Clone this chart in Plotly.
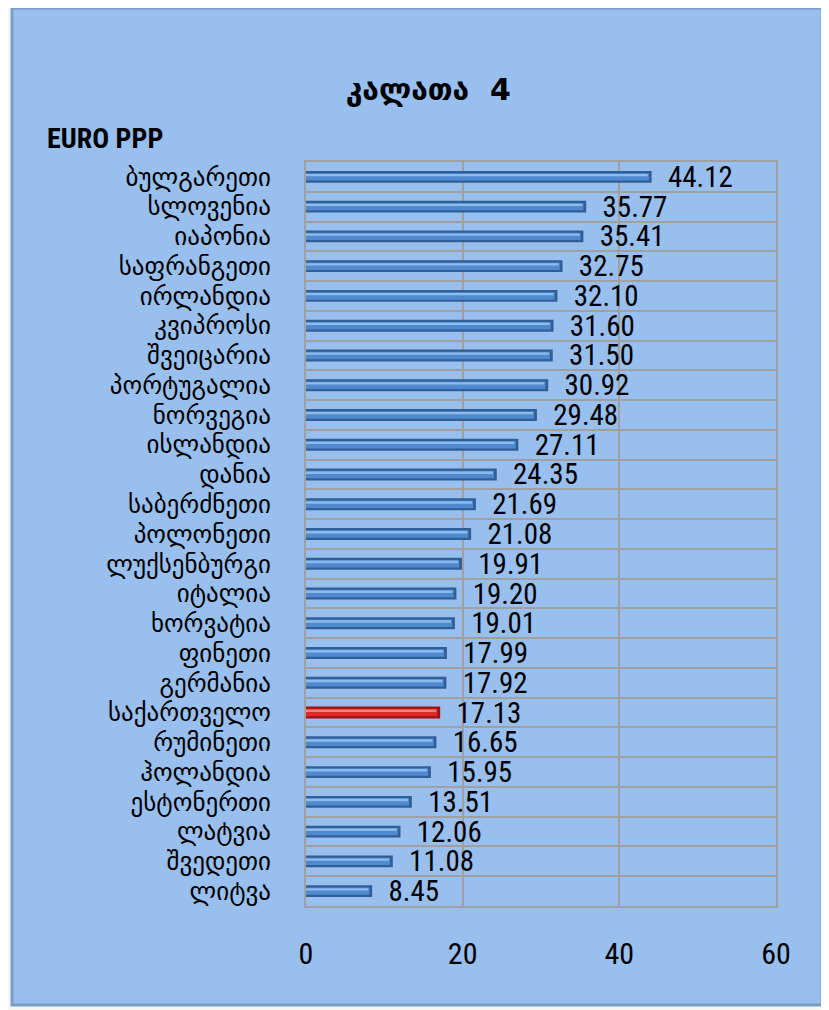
import plotly.graph_objects as go

countries = ["ბულგარეთი", "სლოვენია", "იაპონია", "საფრანგეთი", "ირლანდია", "კვიპროსი",
             "შვეიცარია", "პორტუგალია", "ნორვეგია", "ისლანდია", "დანია", "საბერძნეთი",
             "პოლონეთი", "ლუქსენბურგი", "იტალია", "ხორვატია", "ფინეთი", "გერმანია",
             "საქართველო", "რუმინეთი", "ჰოლანდია", "ესტონერთი", "ლატვია", "შვედეთი", "ლიტვა"]
values = [44.12, 35.77, 35.41, 32.75, 32.10, 31.60, 31.50, 30.92, 29.48, 27.11, 24.35, 21.69,
          21.08, 19.91, 19.20, 19.01, 17.99, 17.92, 17.13, 16.65, 15.95, 13.51, 12.06, 11.08, 8.45]
highlight = "საქართველო"
x_ticks = [0, 20, 40, 60]

cats = list(reversed(countries))
vals = list(reversed(values))
outer_colors = ["#A01010" if c == highlight else "#2F5F96" for c in cats]
inner_colors = ["#E02828" if c == highlight else "#4F8AD0" for c in cats]
hi_colors = ["#F08080" if c == highlight else "#8DBBEB" for c in cats]

NUM_FONT = "Liberation Sans Narrow, Roboto Condensed, Arial Narrow, sans-serif"

fig = go.Figure()
fig.add_trace(go.Bar(
    y=cats, x=vals, orientation="h", width=0.4,
    marker=dict(color=outer_colors, line=dict(width=0)),
    text=["  " + f"{v:.2f}" for v in vals], textposition="outside", constraintext="none",
    textfont=dict(family=NUM_FONT, size=29, color="#000000"),
    cliponaxis=False, showlegend=False, hoverinfo="skip"))
fig.add_trace(go.Bar(
    y=cats, x=[v - 0.35 for v in vals], orientation="h", width=0.25,
    marker=dict(color=inner_colors, line=dict(width=0)),
    showlegend=False, hoverinfo="skip"))
fig.add_trace(go.Bar(
    y=cats, x=[v - 0.5 for v in vals], orientation="h", width=0.08, offset=0.02,
    marker=dict(color=hi_colors, line=dict(width=0)),
    showlegend=False, hoverinfo="skip"))

# plot area in page pixels: x 306-776, y 162-906 (page has 8px body offset)
fig.update_layout(
    width=829, height=1010,
    barmode="overlay",
    paper_bgcolor="#F7F7F2",
    plot_bgcolor="#FFFFFF",
    margin=dict(l=298, r=61, t=154, b=112),
    title=dict(text="<b>კალათა  4</b>", x=0.507, xanchor="center", y=0.919, yanchor="middle",
               font=dict(family="DejaVu Sans, sans-serif", size=30, color="#000000")),
    shapes=[dict(type="rect", xref="paper", yref="paper", layer="below",
                 x0=-0.6255, x1=1.098, y0=-0.133, y1=1.207,
                 fillcolor="#99BFEF", line=dict(color="#7A9CC8", width=3))],
    annotations=[dict(text="<b>EURO PPP</b>", xref="paper", yref="paper", x=-0.555, y=1.032,
                      xanchor="left", yanchor="middle", showarrow=False,
                      font=dict(family=NUM_FONT, size=28, color="#000000"))],
)
fig.update_xaxes(range=[0, 60], tickvals=x_ticks, showgrid=True, gridcolor="#A0A0A0", gridwidth=1.5,
                 zeroline=False, showline=True, linecolor="#A0A0A0", linewidth=2, mirror=True,
                 ticks="outside", ticklen=20, tickcolor="rgba(0,0,0,0)",
                 tickfont=dict(family=NUM_FONT, size=30, color="#000000"))
fig.update_yaxes(type="category", categoryorder="array", categoryarray=cats,
                 tickmode="array", tickvals=cats, ticktext=cats,
                 tickson="boundaries", showgrid=True, gridcolor="#A0A0A0", gridwidth=1.5,
                 showline=True, linecolor="#A0A0A0", linewidth=2, mirror=True,
                 ticks="", ticklabelstandoff=28,
                 tickfont=dict(family="DejaVu Sans, sans-serif", size=25, color="#000000"))

fig.write_html("out.html")
